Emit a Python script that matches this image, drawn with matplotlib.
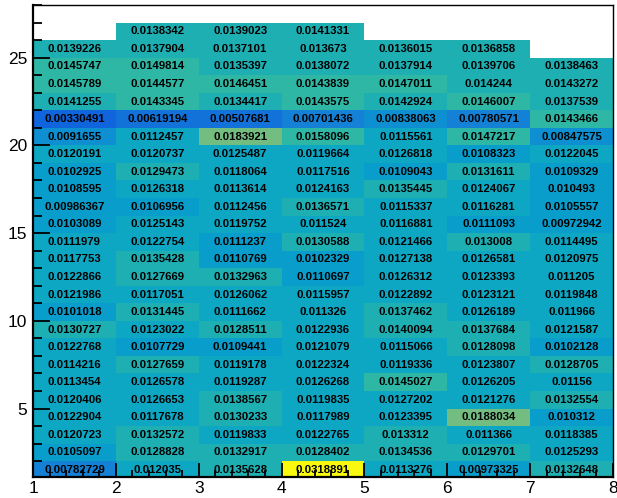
import numpy as np
import matplotlib
matplotlib.use('Agg')
import matplotlib.pyplot as plt
from matplotlib.colors import ListedColormap, BoundaryNorm
from matplotlib.ticker import MultipleLocator

plt.rcParams['font.family'] = ['Liberation Sans', 'DejaVu Sans']

# bin contents, one list per x bin (x = 1..7), from y = 1 upwards
col1 = [0.00782729, 0.0105097, 0.0120723, 0.0122904, 0.0120406, 0.0113454, 0.0114216,
        0.0122768, 0.0130727, 0.0101018, 0.0121986, 0.0122866, 0.0117753, 0.0111979,
        0.0103089, 0.00986367, 0.0108595, 0.0102925, 0.0120191, 0.0091655, 0.00330491,
        0.0141255, 0.0145789, 0.0145747, 0.0139226]
col2 = [0.012035, 0.0128828, 0.0132572, 0.0117678, 0.0126653, 0.0126578, 0.0127659,
        0.0107729, 0.0123022, 0.0131445, 0.0117051, 0.0127669, 0.0135428, 0.0122754,
        0.0125143, 0.0106956, 0.0126318, 0.0129473, 0.0120737, 0.0112457, 0.00619194,
        0.0143345, 0.0144577, 0.0149814, 0.0137904, 0.0138342]
col3 = [0.0135628, 0.0132917, 0.0119833, 0.0130233, 0.0138567, 0.0119287, 0.0119178,
        0.0109441, 0.0128511, 0.0111662, 0.0126062, 0.0132963, 0.0110769, 0.0111237,
        0.0119752, 0.0112456, 0.0113614, 0.0118064, 0.0125487, 0.0183921, 0.00507681,
        0.0134417, 0.0146451, 0.0135397, 0.0137101, 0.0139023]
col4 = [0.0318891, 0.0128402, 0.0122765, 0.0117989, 0.0119835, 0.0126268, 0.0122324,
        0.0121079, 0.0122936, 0.011326, 0.0115957, 0.0110697, 0.0102329, 0.0130588,
        0.011524, 0.0136571, 0.0124163, 0.0117516, 0.0119664, 0.0158096, 0.00701436,
        0.0143575, 0.0143839, 0.0138072, 0.013673, 0.0141331]
col5 = [0.0113276, 0.0134536, 0.013312, 0.0123395, 0.0127202, 0.0145027, 0.0119336,
        0.0115066, 0.0140094, 0.0137462, 0.0122892, 0.0126312, 0.0127138, 0.0121466,
        0.0116881, 0.0115337, 0.0135445, 0.0109043, 0.0126818, 0.0115561, 0.00838063,
        0.0142924, 0.0147011, 0.0137914, 0.0136015]
col6 = [0.00973325, 0.0129701, 0.011366, 0.0188034, 0.0121276, 0.0126205, 0.0123807,
        0.0128098, 0.0137684, 0.0126189, 0.0123121, 0.0123393, 0.0126581, 0.013008,
        0.0111093, 0.0116281, 0.0124067, 0.0131611, 0.0108323, 0.0147217, 0.00780571,
        0.0146007, 0.014244, 0.0139706, 0.0136858]
col7 = [0.0132648, 0.0125293, 0.0118385, 0.010312, 0.0132554, 0.01156, 0.0128705,
        0.0102128, 0.0121587, 0.011966, 0.0119848, 0.011205, 0.0120975, 0.0114495,
        0.00972942, 0.0105557, 0.010493, 0.0109329, 0.0122045, 0.00847575, 0.0143466,
        0.0137539, 0.0143272, 0.0138463]
columns = [col1, col2, col3, col4, col5, col6, col7]

x_edges = np.arange(1, 9)
y_edges = np.arange(1, 28)

z = np.full((len(y_edges) - 1, len(x_edges) - 1), np.nan)
for i, col in enumerate(columns):
    z[:len(col), i] = col
z = np.ma.masked_invalid(z)

# ROOT kBird palette, 255 colours
stops = [0.0, 0.125, 0.25, 0.375, 0.5, 0.625, 0.75, 0.875, 1.0]
red = [0.2082, 0.0592, 0.0780, 0.0232, 0.1802, 0.5301, 0.8186, 0.9956, 0.9764]
green = [0.1664, 0.3599, 0.5041, 0.6419, 0.7178, 0.7492, 0.7328, 0.7862, 0.9832]
blue = [0.5293, 0.8684, 0.8385, 0.7914, 0.6425, 0.4662, 0.3499, 0.1968, 0.0539]
palette = []
for g in range(1, len(stops)):
    n = int(np.floor(255 * stops[g]) - np.floor(255 * stops[g - 1]))
    for c in range(n):
        palette.append((red[g - 1] + c * (red[g] - red[g - 1]) / n,
                        green[g - 1] + c * (green[g] - green[g - 1]) / n,
                        blue[g - 1] + c * (blue[g] - blue[g - 1]) / n))

# 20 contour levels, like gStyle default
ncont = 20
zmin, zmax = 0.0, z.max()
level_colors = [palette[min(int((k + 0.99) * len(palette) / ncont), len(palette) - 1)]
                for k in range(ncont)]
bounds = [zmin] + [zmin + (k - 0.01) * (zmax - zmin) / ncont for k in range(1, ncont)] + [zmax * 1.001]
cmap = ListedColormap(level_colors)
norm = BoundaryNorm(bounds, cmap.N)

fig = plt.figure(figsize=(6.17, 4.98), dpi=100)
ax = fig.add_axes([33 / 617, 21 / 498, 580 / 617, 472 / 498])
ax.pcolormesh(x_edges, y_edges, z, cmap=cmap, norm=norm)

for i, col in enumerate(columns):
    for j, v in enumerate(col):
        ax.text(x_edges[i] + 0.5, y_edges[j] + 0.5, f"{v:g}", ha='center', va='center',
                fontsize=8.2, fontweight='bold', color='black')

ax.set_xlim(1, 8)
ax.set_ylim(1.1, 28)

ax.xaxis.set_major_locator(MultipleLocator(1))
ax.xaxis.set_minor_locator(MultipleLocator(0.2))
ax.yaxis.set_major_locator(MultipleLocator(5))
ax.yaxis.set_minor_locator(MultipleLocator(1))
ax.tick_params(axis='x', which='major', direction='in', length=10.2, width=1.3, labelsize=12.5, pad=3)
ax.tick_params(axis='x', which='minor', direction='in', length=5.1, width=1.3)
ax.tick_params(axis='y', which='major', direction='in', length=12.5, width=1.3, labelsize=12.5, pad=4)
ax.tick_params(axis='y', which='minor', direction='in', length=6.2, width=1.3)

for side in ['left', 'bottom']:
    ax.spines[side].set_linewidth(1.6)
for side in ['top', 'right']:
    ax.spines[side].set_linewidth(1.0)

plt.savefig('out.png', dpi=100)
